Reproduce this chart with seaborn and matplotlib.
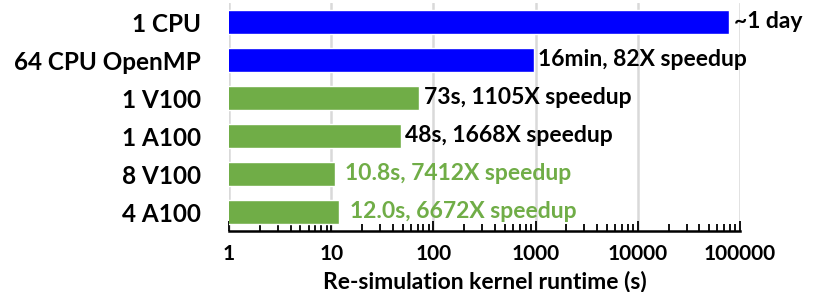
import matplotlib
matplotlib.use("Agg")
import matplotlib.pyplot as plt
import matplotlib.ticker as mticker
import pandas as pd
import seaborn as sns

# runtimes (seconds)
configs = ["1 CPU", "64 CPU OpenMP", "1 V100", "1 A100", "8 V100", "4 A100"]
runtimes = [78000, 955, 73, 48, 10.8, 12.0]
kinds = ["cpu", "cpu", "gpu", "gpu", "gpu", "gpu"]
notes = ["~1 day", "16min, 82X speedup", "73s, 1105X speedup",
         "48s, 1668X speedup", "10.8s, 7412X speedup", "12.0s, 6672X speedup"]
note_colors = ["black", "black", "black", "black", "#70AD47", "#70AD47"]

palette = {"cpu": "#0000FF", "gpu": "#70AD47"}

sns.set_style("white")
plt.rcParams['font.family'] = ['Lato', 'DejaVu Sans']
plt.rcParams['font.weight'] = 'bold'

df = pd.DataFrame({"config": configs, "runtime": runtimes, "kind": kinds})

fig = plt.figure(figsize=(8.32, 2.92), dpi=100)
ax = fig.add_axes([229 / 832, 1 - 231 / 292, (740 - 229) / 832, 228 / 292])

sns.barplot(data=df, x="runtime", y="config", hue="kind", palette=palette,
            orient="h", width=0.63, dodge=False, legend=False,
            saturation=1, ax=ax)
ax.set_xscale("log")
ax.set_xlim(1, 100000)
ax.set_ylim(5.5, -0.5)

# vertical gridlines at each decade
ax.xaxis.grid(True, which="major", color="#D9D9D9", linewidth=1.8)
ax.set_axisbelow(True)

for i, (rt, txt, c) in enumerate(zip(runtimes, notes, note_colors)):
    pad = 1.11 if c == "black" else 1.26
    ax.text(rt * pad, i, txt, va="center", ha="left", fontsize=16.5,
            fontweight="bold", color=c)

ax.xaxis.set_major_formatter(mticker.FuncFormatter(lambda v, p: f"{int(v)}"))
ax.xaxis.set_minor_locator(mticker.LogLocator(base=10, subs=range(2, 10)))
ax.xaxis.set_minor_formatter(mticker.NullFormatter())
ax.tick_params(axis="x", which="both", bottom=True)
ax.tick_params(axis="x", which="major", direction="in", length=7, width=1.3,
               labelsize=15, pad=9, colors="black")
ax.tick_params(axis="x", which="minor", direction="in", length=5, width=1.3,
               colors="black")
ax.tick_params(axis="y", length=0, labelsize=17.5, pad=20, labelcolor="black")
for lbl in ax.get_yticklabels() + ax.get_xticklabels():
    lbl.set_fontweight("bold")

ax.set_ylabel("")
ax.set_xlabel("Re-simulation kernel runtime (s)", fontsize=16.5,
              fontweight="bold", labelpad=5, color="black")

for s in ["top", "right", "left"]:
    ax.spines[s].set_visible(False)
ax.spines["bottom"].set_color("black")
ax.spines["bottom"].set_linewidth(1.8)

fig.savefig("out.png", dpi=100)
